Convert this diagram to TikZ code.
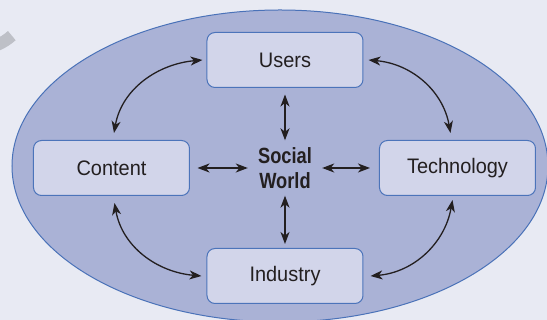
\documentclass[tikz,border=0pt]{standalone}
\usepackage{fontspec}
\usepackage{xcolor}
\usepackage{tikz}
\usetikzlibrary{arrows.meta, positioning}

\newfontfamily\labelfont[FakeStretch=0.95]{Liberation Sans}
\newfontfamily\worldfont[FakeStretch=0.83]{Liberation Sans}

\definecolor{pagebg}{RGB}{232,234,243}
\definecolor{ovalfill}{RGB}{170,178,214}
\definecolor{ovalline}{RGB}{74,114,184}
\definecolor{boxfill}{RGB}{210,213,234}
\definecolor{boxline}{RGB}{76,116,186}
\definecolor{ink}{RGB}{35,31,32}
\definecolor{scrap}{RGB}{190,192,199}

\begin{document}
\begin{tikzpicture}[
    box/.style={rectangle, rounded corners=8pt, draw=boxline, line width=1pt, fill=boxfill, minimum width=156pt, minimum height=55pt, align=center, text=ink, font=\labelfont\fontsize{21}{24}\selectfont},
    hub/.style={rectangle, inner sep=0pt, minimum width=74pt, minimum height=55pt, align=center, text=ink, font=\worldfont\bfseries\fontsize{22}{25}\selectfont},
    arrow/.style={{Stealth[length=12pt, width=9pt, inset=3.5pt]}-{Stealth[length=12pt, width=9pt, inset=3.5pt]}, line width=1.3pt, draw=ink}
]
    \useasboundingbox (-285pt,168pt) rectangle (262pt,-152pt);
    \clip (-285pt,168pt) rectangle (262pt,-152pt);
    \fill[pagebg] (-285pt,168pt) rectangle (262pt,-152pt);

    % cut-off letter in the corner
    \draw[scrap, line width=12pt] (-308pt,171pt) ++(240:52pt) arc (240:312:52pt);

    % the oval
    \draw[fill=ovalfill, draw=ovalline, line width=1pt] (-5pt,2pt) ellipse (268pt and 156pt);

    \node[hub] (world) at (0,0) {Social\\World};

    \node[box, above=80pt of world.center] (users) {Users};
    \node[box, left=95pt of world.center] (content) {Content};
    \node[box, right=94pt of world.center] (tech) {Technology};
    \node[box, below=80pt of world.center] (industry) {Industry};

    % spokes
    \draw[arrow, shorten <=6.5pt] (users) -- (world);
    \draw[arrow, shorten <=7.5pt] (content) -- (world);
    \draw[arrow, shorten <=9pt] (tech) -- (world);
    \draw[arrow, shorten <=4pt] (industry) -- (world);

    % outer ring
    \draw[arrow] ([xshift=2.5pt, yshift=7pt]content.north) to[out=80, in=185] ([xshift=-4pt]users.west);
    \draw[arrow] ([xshift=5pt]users.east) to[out=-5, in=100] ([xshift=-7pt, yshift=7pt]tech.north);
    \draw[arrow] ([xshift=-5pt, yshift=-4pt]tech.south) to[out=260, in=5] ([xshift=7pt]industry.east);
    \draw[arrow] ([xshift=3pt, yshift=-7pt]content.south) to[out=280, in=175] ([xshift=-5pt]industry.west);
\end{tikzpicture}
\end{document}
